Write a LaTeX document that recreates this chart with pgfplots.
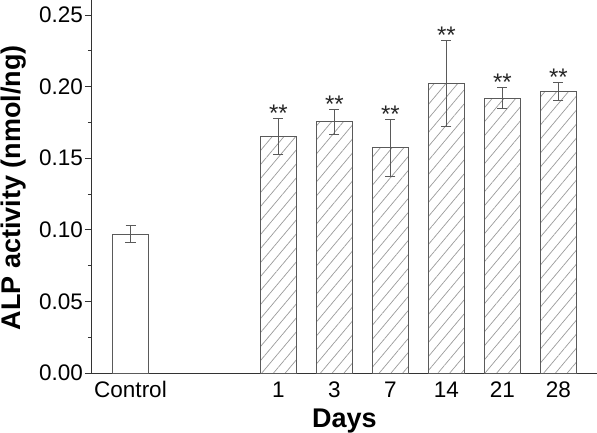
\documentclass[border=0pt]{standalone}
\usepackage{pgfplots}
\pgfplotsset{compat=1.18}
\usepackage{fontspec}
\setmainfont{Liberation Sans}
\usetikzlibrary{patterns.meta}
\definecolor{axisc}{HTML}{333333}
\definecolor{barc}{HTML}{5A5A5A}
\definecolor{hatchc}{HTML}{9A9A9A}
\begin{document}
\begin{tikzpicture}
\begin{axis}[
  at={(0,0)}, anchor=south west,
  scale only axis, width=505bp, height=373bp,
  xmin=-0.6875, xmax=8.33,
  ymin=0, ymax=0.2605,
  axis x line*=bottom, axis y line*=left,
  axis line style={-, color=axisc, line width=1bp},
  xtick={0,2.64,3.64,4.64,5.64,6.64,7.64},
  xticklabels={Control,1,3,7,14,21,28},
  x tick style={draw=none},
  major x tick style={draw=none},
  ytick={0,0.05,0.1,0.15,0.2,0.25},
  minor y tick num=1,
  y tick style={color=axisc, line width=1bp},
  tick align=outside,
  major tick length=7bp, minor tick length=4bp,
  yticklabel style={/pgf/number format/.cd, fixed, fixed zerofill, precision=2, /tikz/.cd, inner sep=0pt, xshift=-2bp},
  xticklabel style={inner sep=0pt, anchor=base, yshift=-17bp},
  /pgf/number format/assume math mode=true,
  tick label style={font=\fontsize{22.5bp}{26bp}\selectfont, text=black},
  xlabel={\textbf{Days}},
  ylabel={\textbf{ALP activity (nmol/ng)}},
  xlabel style={font=\fontsize{27bp}{30bp}\selectfont, at={(axis description cs:0.5,-0.146)}, anchor=base, inner sep=0pt},
  ylabel style={font=\fontsize{27bp}{30bp}\selectfont, at={(axis description cs:-0.1545,0.497)}, anchor=center, inner sep=0pt},
  ybar, bar width=0.643, bar shift=0pt,
  clip=false,
]
% Control
\addplot[draw=barc, line width=1bp, fill=white,
  error bars/.cd, y dir=both, y explicit,
  error bar style={color=barc, line width=1bp},
  error mark options={rotate=90, mark size=5bp, color=barc, line width=1bp}]
  coordinates {(0,0.097) +- (0,0.0058)};
% Days
\addplot[draw=barc, line width=1bp,
  pattern={Lines[angle=50, distance=9bp, line width=0.7bp]}, pattern color=hatchc,
  error bars/.cd, y dir=both, y explicit,
  error bar style={color=barc, line width=1bp},
  error mark options={rotate=90, mark size=5bp, color=barc, line width=1bp}]
  coordinates {
    (2.64,0.165) +- (0,0.0125)
    (3.64,0.1753) +- (0,0.0088)
    (4.64,0.1573) +- (0,0.020)
    (5.64,0.2025) +- (0,0.030)
    (6.64,0.192) +- (0,0.0074)
    (7.64,0.1967) +- (0,0.0063)
  };
% significance stars
\addplot[draw=none, fill=none, forget plot,
  nodes near coords={**},
  every node near coord/.append style={anchor=base, inner sep=0pt, yshift=-3bp, font=\fontsize{24bp}{26bp}\selectfont, text=black!85}]
  coordinates {
    (2.64,0.1775)
    (3.64,0.1841)
    (4.64,0.1773)
    (5.64,0.2325)
    (6.64,0.1994)
    (7.64,0.2030)
  };
\end{axis}
\pgfresetboundingbox
\path[use as bounding box] (-92bp,-60bp) rectangle (505bp,373bp);
\end{tikzpicture}
\end{document}
